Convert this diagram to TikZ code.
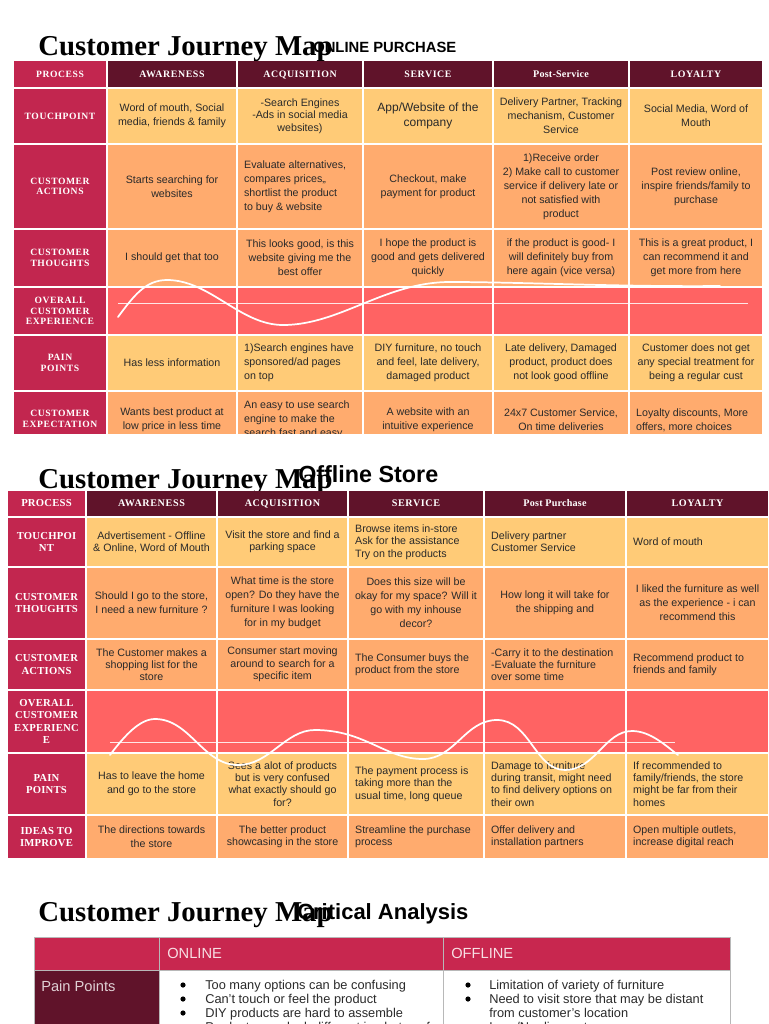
\documentclass[tikz,border=0pt]{standalone}
\usepackage{fontspec}
\setmainfont{Liberation Sans}
\newfontfamily\hdserif[LetterSpace=6]{Liberation Serif}
\newfontfamily\hdtight[LetterSpace=2]{Liberation Serif}
\newfontfamily\ttlserif{Liberation Serif}
\definecolor{crim}{HTML}{C2264F}
\definecolor{wine}{HTML}{60132A}
\definecolor{yel}{HTML}{FFCB77}
\definecolor{org}{HTML}{FFAB6E}
\definecolor{rd}{HTML}{FF6363}
\definecolor{ink}{HTML}{2A2A2A}
\definecolor{crim3}{HTML}{C8274F}
\tikzset{
 basecell/.style={inner sep=0pt,outer sep=0pt,align=center,text=ink,font=\fontsize{8}{10.5}\selectfont},
 ycell/.style={basecell,fill=yel},
 ocell/.style={basecell,fill=org},
 rcell/.style={basecell,fill=rd},
 tight/.style={font=\fontsize{8}{9.2}\selectfont},
 big/.style={font=\fontsize{9}{11}\selectfont},
 headcell/.style={basecell,fill=wine,text=white,text height=5.2pt,text depth=0pt,font=\hdserif\bfseries\fontsize{7.4}{8.5}\selectfont},
 sidecell/.style={basecell,fill=crim,text=white,font=\hdserif\bfseries\fontsize{7.2}{7.9}\selectfont},
 sidetwo/.style={basecell,fill=crim,text=white,font=\hdtight\bfseries\fontsize{8}{9.2}\selectfont},
 headtwo/.style={basecell,fill=wine,text=white,text height=5.2pt,text depth=0pt,font=\hdserif\bfseries\fontsize{7.6}{8.5}\selectfont},
 titletext/.style={anchor=base west,inner sep=0pt,text=black,font=\ttlserif\bfseries\fontsize{21.6}{24}\selectfont},
 subtext/.style={anchor=base west,inner sep=0pt,text=black},
 curve/.style={draw=white,line width=1.3pt,line cap=round},
 flatline/.style={draw=white,line width=0.7pt,opacity=0.85},
 gridthree/.style={draw=black!28,line width=0.75pt,inner sep=0pt,outer sep=0pt},
 bodythree/.style={anchor=north west,inner sep=0pt,align=left,text=ink,font=\fontsize{9.6}{10.5}\selectfont},
 dotthree/.style={circle,fill=black,inner sep=0pt,minimum size=3.9pt},
}
\newcommand\cb[7]{%
 \pgfmathsetmacro\cw{(#3-#2)*0.75}\pgfmathsetmacro\ch{(#5-#4)*0.75}%
 \node[#6,minimum width=\cw pt,minimum height=\ch pt] (#1) at ({(#2+#3)/2},{(#4+#5)/2}) {#7};}
\newcommand\cl[7]{%
 \pgfmathsetmacro\cw{(#3-#2)*0.75}\pgfmathsetmacro\ch{(#5-#4)*0.75}%
 \node[#6,minimum width=\cw pt,minimum height=\ch pt] (#1) at ({(#2+#3)/2},{(#4+#5)/2}) {};
 \node[#6,fill=none,anchor=west,align=left] (#1t) at ([xshift=4.6pt]#1.west) {#7};}
\begin{document}
\begin{tikzpicture}[x=0.75pt,y=-0.75pt]
\useasboundingbox (0,0) rectangle (768,1024);
\clip (0,0) rectangle (768,1024);
% ---------- Online ----------
\node[titletext] (t1) at (38,56) {Customer Journey Map};
\node[subtext,font=\bfseries\fontsize{11.1}{13}\selectfont] (s1) at (313,53) {ONLINE PURCHASE};
\cb{a00}{14}{106}{61}{87}{sidecell}{PROCESS}
\cb{a01}{108}{236}{61}{87}{headcell}{AWARENESS}
\cb{a02}{238}{362}{61}{87}{headcell}{ACQUISITION}
\cb{a03}{364}{492}{61}{87}{headcell}{SERVICE}
\cb{a04}{494}{628}{61}{87}{headcell,font=\hdtight\bfseries\fontsize{7.6}{8.5}\selectfont}{Post-Service}
\cb{a05}{630}{762}{61}{87}{headcell}{LOYALTY}
\cb{b00}{14}{106}{89}{143}{sidecell}{TOUCHPOINT}
\cb{b01}{108}{236}{89}{143}{ycell}{Word of mouth, Social\\media, friends \& family}
\cb{b02}{238}{362}{89}{143}{ycell,tight}{-Search Engines\\-Ads in social media\\websites)}
\cb{b03}{364}{492}{89}{143}{ycell,big}{App/Website of the\\company}
\cb{b04}{494}{628}{89}{143}{ycell}{Delivery Partner, Tracking\\mechanism, Customer\\Service}
\cb{b05}{630}{762}{89}{143}{ycell}{Social Media, Word of\\Mouth}
\cb{c00}{14}{106}{145}{228}{sidecell}{CUSTOMER\\ACTIONS}
\cb{c01}{108}{236}{145}{228}{ocell}{Starts searching for\\websites}
\cl{c02}{238}{362}{145}{228}{ocell}{Evaluate alternatives,\\compares prices,,\\shortlist the product\\to buy \& website}
\cb{c03}{364}{492}{145}{228}{ocell}{Checkout, make\\payment for product}
\cb{c04}{494}{628}{145}{228}{ocell}{1)Receive order\\2) Make call to customer\\service if delivery late or\\not satisfied with\\product}
\cb{c05}{630}{762}{145}{228}{ocell}{Post review online,\\inspire friends/family to\\purchase}
\cb{d00}{14}{106}{230}{286}{sidecell}{CUSTOMER\\THOUGHTS}
\cb{d01}{108}{236}{230}{286}{ocell}{I should get that too}
\cb{d02}{238}{362}{230}{286}{ocell}{This looks good, is this\\website giving me the\\best offer}
\cb{d03}{364}{492}{230}{286}{ocell}{I hope the product is\\good and gets delivered\\quickly}
\cb{d04}{494}{628}{230}{286}{ocell}{if the product is good- I\\will definitely buy from\\here again (vice versa)}
\cb{d05}{630}{762}{230}{286}{ocell}{This is a great product, I\\can recommend it and\\get more from here}
\cb{e00}{14}{106}{288}{334}{sidecell}{OVERALL\\CUSTOMER\\EXPERIENCE}
\cb{e01}{108}{236}{288}{334}{rcell}{}
\cb{e02}{238}{362}{288}{334}{rcell}{}
\cb{e03}{364}{492}{288}{334}{rcell}{}
\cb{e04}{494}{628}{288}{334}{rcell}{}
\cb{e05}{630}{762}{288}{334}{rcell}{}
\cb{f00}{14}{106}{336}{390}{sidecell}{PAIN\\POINTS}
\cb{f01}{108}{236}{336}{390}{ycell}{Has less information}
\cl{f02}{238}{362}{336}{390}{ycell}{1)Search engines have\\sponsored/ad pages\\on top}
\cb{f03}{364}{492}{336}{390}{ycell}{DIY furniture, no touch\\and feel, late delivery,\\damaged product}
\cb{f04}{494}{628}{336}{390}{ycell}{Late delivery, Damaged\\product, product does\\not look good offline}
\cb{f05}{630}{762}{336}{390}{ycell}{Customer does not get\\any special treatment for\\being a regular cust}
\begin{scope}
\clip (0,392) rectangle (768,433);
\cb{g00}{14}{106}{392}{448}{sidecell}{}
\node[basecell,text=white,font=\hdserif\bfseries\fontsize{7.2}{7.9}\selectfont] (g00t) at (60,419) {CUSTOMER\\EXPECTATION};
\cb{g01}{108}{236}{392}{448}{ocell}{Wants best product at\\low price in less time}
\cl{g02}{238}{362}{392}{448}{ocell}{An easy to use search\\engine to make the\\search fast and easy}
\cb{g03}{364}{492}{392}{448}{ocell}{A website with an\\intuitive experience}
\cb{g04}{494}{628}{392}{448}{ocell}{24x7 Customer Service,\\On time deliveries}
\cl{g05}{630}{762}{392}{448}{ocell}{Loyalty discounts, More\\offers, more choices}
\end{scope}
\coordinate (ls1) at (118,303);
\coordinate (le1) at (748,303);
\draw[flatline] (ls1) -- (le1);
\draw[curve] (118,317) .. controls (133,297) and (145,280) .. (167,280) .. controls (210,280) and (240,325) .. (283,325) .. controls (340,325) and (385,282) .. (450,282) .. controls (520,282) and (620,287) .. (720,286);
% ---------- Offline ----------
\node[titletext] (t2) at (38,488) {Customer Journey Map};
\node[subtext,font=\bfseries\fontsize{17.5}{20}\selectfont] (s2) at (298,482) {Offline Store};
\cb{h00}{8}{85}{491}{516}{sidetwo}{PROCESS}
\cb{h01}{87}{216}{491}{516}{headtwo}{AWARENESS}
\cb{h02}{218}{347}{491}{516}{headtwo}{ACQUISITION}
\cb{h03}{349}{483}{491}{516}{headtwo}{SERVICE}
\cb{h04}{485}{625}{491}{516}{headtwo,font=\hdtight\bfseries\fontsize{7.6}{8.5}\selectfont}{Post Purchase}
\cb{h05}{627}{768}{491}{516}{headtwo}{LOYALTY}
\cb{i00}{8}{85}{518}{566}{sidetwo}{TOUCHPOI\\NT}
\cb{i01}{87}{216}{518}{566}{ycell,tight}{Advertisement - Offline\\\& Online, Word of Mouth}
\cb{i02}{218}{347}{518}{566}{ycell,tight}{Visit the store and find a\\parking space}
\cl{i03}{349}{483}{518}{566}{ycell,tight}{Browse items in-store\\Ask for the assistance\\Try on the products}
\cl{i04}{485}{625}{518}{566}{ycell,tight}{Delivery partner\\Customer Service}
\cl{i05}{627}{768}{518}{566}{ycell,tight}{Word of mouth}
\cb{j00}{8}{85}{568}{638}{sidetwo}{CUSTOMER\\THOUGHTS}
\cb{j01}{87}{216}{568}{638}{ocell}{Should I go to the store,\\I need a new furniture ?}
\cb{j02}{218}{347}{568}{638}{ocell}{What time is the store\\open? Do they have the\\furniture I was looking\\for in my budget}
\cb{j03}{349}{483}{568}{638}{ocell}{Does this size will be\\okay for my space? Will it\\go with my inhouse\\decor?}
\cb{j04}{485}{625}{568}{638}{ocell}{How long it will take for\\the shipping and}
\cb{j05}{627}{768}{568}{638}{ocell}{I liked the furniture as well\\as the experience - i can\\recommend this}
\cb{k00}{8}{85}{640}{689}{sidetwo}{CUSTOMER\\ACTIONS}
\cb{k01}{87}{216}{640}{689}{ocell,tight}{The Customer makes a\\shopping list for the\\store}
\cb{k02}{218}{347}{640}{689}{ocell,tight}{Consumer start moving\\around to search for a\\specific item}
\cl{k03}{349}{483}{640}{689}{ocell,tight}{The Consumer buys the\\product from the store}
\cl{k04}{485}{625}{640}{689}{ocell,tight}{-Carry it to the destination\\-Evaluate the furniture\\over some time}
\cl{k05}{627}{768}{640}{689}{ocell,tight}{Recommend product to\\friends and family}
\cb{l00}{8}{85}{691}{752}{sidetwo}{OVERALL\\CUSTOMER\\EXPERIENC\\E}
\cb{l01}{87}{216}{691}{752}{rcell}{}
\cb{l02}{218}{347}{691}{752}{rcell}{}
\cb{l03}{349}{483}{691}{752}{rcell}{}
\cb{l04}{485}{625}{691}{752}{rcell}{}
\cb{l05}{627}{768}{691}{752}{rcell}{}
\cb{m00}{8}{85}{754}{814}{sidetwo}{PAIN\\POINTS}
\cb{m01}{87}{216}{754}{814}{ycell}{Has to leave the home\\and go to the store}
\cb{m02}{218}{347}{754}{814}{ycell,tight}{Sees a alot of products\\but is very confused\\what exactly should go\\for?}
\cl{m03}{349}{483}{754}{814}{ycell,tight}{The payment process is\\taking more than the\\usual time, long queue}
\cl{m04}{485}{625}{754}{814}{ycell,tight}{Damage to furniture\\during transit, might need\\to find delivery options on\\their own}
\cl{m05}{627}{768}{754}{814}{ycell,tight}{If recommended to\\family/friends, the store\\might be far from their\\homes}
\cb{n00}{8}{85}{816}{858}{sidetwo}{IDEAS TO\\IMPROVE}
\cb{n01}{87}{216}{816}{858}{ocell}{The directions towards\\the store}
\cb{n02}{218}{347}{816}{858}{ocell,tight}{The better product\\showcasing in the store}
\cl{n03}{349}{483}{816}{858}{ocell,tight}{Streamline the purchase\\process}
\cl{n04}{485}{625}{816}{858}{ocell,tight}{Offer delivery and\\installation partners}
\cl{n05}{627}{768}{816}{858}{ocell,tight}{Open multiple outlets,\\increase digital reach}
\coordinate (ls2) at (110,742);
\coordinate (le2) at (675,742);
\draw[flatline] (ls2) -- (le2);
\draw[curve] (110,755) .. controls (125,735) and (140,719) .. (155,719) .. controls (190,719) and (203,765) .. (238,765) .. controls (270,765) and (285,730) .. (315,730) .. controls (365,730) and (385,759) .. (423,759) .. controls (455,759) and (465,720) .. (497,720) .. controls (530,720) and (535,770) .. (565,770) .. controls (595,770) and (605,731) .. (632,731) .. controls (650,731) and (665,745) .. (678,755);
% ---------- Critical analysis ----------
\node[titletext] (t3) at (38,921) {Customer Journey Map};
\node[subtext,font=\bfseries\fontsize{16.5}{19}\selectfont] (s3) at (297,919) {Critical Analysis};
\cb{p00}{34}{159}{937}{970}{gridthree,fill=crim3}{}
\cb{p01}{159}{443}{937}{970}{gridthree,fill=crim3}{}
\cb{p02}{443}{730}{937}{970}{gridthree,fill=crim3}{}
\cb{q00}{34}{159}{970}{1050}{gridthree,fill=wine}{}
\cb{q01}{159}{443}{970}{1050}{gridthree,fill=white}{}
\cb{q02}{443}{730}{970}{1050}{gridthree,fill=white}{}
\node[bodythree,text=white!85!crim3,font=\fontsize{11}{13}\selectfont,anchor=west] (p1t) at (167,953) {ONLINE};
\node[bodythree,text=white!85!crim3,font=\fontsize{11}{13}\selectfont,anchor=west] (p2t) at (451,953) {OFFLINE};
\node[bodythree,text=white!80!wine,font=\fontsize{11}{13}\selectfont,anchor=west] (q0t) at (41,986) {Pain Points};
\node[dotthree] (d11) at (183,985) {};
\node[dotthree] (d12) at (183,999) {};
\node[dotthree] (d13) at (183,1013) {};
\node[bodythree] (q1t) at (205,980) {Too many options can be confusing\\Can't touch or feel the product\\DIY products are hard to assemble\\Products may look different in photos of};
\node[dotthree] (d21) at (468,985) {};
\node[dotthree] (d22) at (468,999) {};
\node[bodythree] (q2t) at (489,980) {Limitation of variety of furniture\\Need to visit store that may be distant\\from customer's location\\Less/No discount coupons};
\end{tikzpicture}
\end{document}
